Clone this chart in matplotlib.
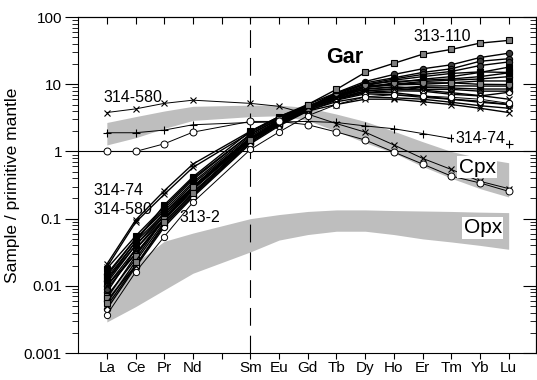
import numpy as np
import matplotlib
matplotlib.use("Agg")
import matplotlib.pyplot as plt
from matplotlib.ticker import LogLocator, FixedLocator, NullFormatter

plt.rcParams['font.family'] = ['Liberation Sans', 'DejaVu Sans']

# REE order (Pm slot kept empty between Nd and Sm)
elements = ['La', 'Ce', 'Pr', 'Nd', 'Sm', 'Eu', 'Gd', 'Tb', 'Dy', 'Ho', 'Er', 'Tm', 'Yb', 'Lu']
xpos = [0, 1, 2, 3, 5, 6, 7, 8, 9, 10, 11, 12, 13, 14]

# mineral fields (grey bands)
cpx_top = [2.7, 3.3, 4.0, 4.7, 4.9, 4.9, 4.5, 3.6, 2.8, 2.0, 1.4, 1.0, 0.8, 0.68]
cpx_bot = [1.25, 1.6, 2.2, 2.9, 3.3, 3.4, 2.9, 2.0, 1.35, 0.95, 0.6, 0.4, 0.28, 0.21]
opx_top = [0.008, 0.022, 0.046, 0.061, 0.10, 0.115, 0.128, 0.135, 0.135, 0.132, 0.13, 0.128, 0.125, 0.123]
opx_bot = [0.0029, 0.0049, 0.0087, 0.0154, 0.032, 0.048, 0.058, 0.065, 0.065, 0.058, 0.05, 0.045, 0.04, 0.035]

# clinopyroxene analyses
cpx_314_580 = [3.8, 4.3, 5.2, 5.8, 5.2, 4.7, 3.6, 2.6, 1.94, 1.25, 0.79, 0.54, 0.36, 0.28]
cpx_314_74 = [1.9, 1.9, 2.08, 2.5, 2.7, 2.75, 2.8, 2.7, 2.4, 2.18, 1.85, 1.56, 1.42, 1.27]
cpx_313_2 = [1.0, 1.0, 1.3, 1.94, 2.8, 2.8, 2.5, 1.95, 1.48, 0.98, 0.65, 0.43, 0.34, 0.255]

# garnet analyses
gar_313_110 = [0.0055, 0.023, 0.09, 0.24, 1.5, 3.0, 5.0, 8.4, 15, 20.5, 28, 33, 41, 45]
gar_314_74 = [0.021, 0.095, 0.26, 0.65, 2.0, 3.3, 4.8, 6.5, 8.5, 9.0, 9.0, 8.8, 8.5, 8.5]
gar_314_580 = [0.019, 0.088, 0.23, 0.58, 1.9, 3.2, 4.6, 6.2, 8.0, 8.5, 8.2, 7.5, 6.8, 6.0]
gar_313_2 = [0.0037, 0.016, 0.054, 0.175, 1.07, 1.95, 3.4, 5.0, 6.5, 7.0, 6.7, 6.4, 6.0, 5.2]
gar_a = [0.012, 0.045, 0.12, 0.33, 1.6, 2.8, 4.6, 7.5, 11, 14, 17, 19.5, 25, 29]
gar_b = [0.008, 0.035, 0.11, 0.30, 1.5, 2.7, 4.5, 7.2, 10.5, 12.5, 15, 17, 22, 24]
gar_c = [0.015, 0.05, 0.13, 0.35, 1.7, 2.9, 4.5, 7.0, 10, 12, 14, 15.5, 19, 21.5]
gar_d = [0.011, 0.04, 0.12, 0.30, 1.6, 2.8, 4.4, 6.8, 9.5, 11.5, 13, 14.5, 15.3, 15]
gar_e = [0.018, 0.055, 0.15, 0.40, 1.8, 3.0, 4.6, 6.5, 9.0, 10.5, 11.9, 13, 15, 18]
gar_f = [0.010, 0.03, 0.10, 0.28, 1.5, 2.6, 4.3, 6.5, 9.0, 10, 11, 11.5, 12, 13]
gar_g = [0.014, 0.05, 0.14, 0.38, 1.8, 3.1, 4.7, 6.8, 9.0, 9.8, 10, 10.5, 11.2, 11.2]
gar_h = [0.007, 0.025, 0.10, 0.25, 1.4, 2.6, 4.3, 6.0, 8.0, 8.5, 9.4, 9.5, 9.4, 9.4]
gar_i = [0.009, 0.03, 0.095, 0.27, 1.5, 2.7, 4.4, 6.3, 8.5, 9.2, 8.4, 8.4, 7.9, 7.9]
gar_j = [0.006, 0.02, 0.08, 0.22, 1.35, 2.5, 4.2, 6.0, 7.6, 8.0, 7.9, 7.1, 6.7, 7.6]
gar_k = [0.012, 0.04, 0.11, 0.30, 1.6, 2.7, 4.3, 6.0, 7.5, 7.5, 6.7, 6.0, 5.6, 5.0]
gar_l = [0.0045, 0.019, 0.075, 0.21, 1.3, 2.4, 4.0, 5.8, 7.2, 7.0, 6.4, 6.0, 5.4, 5.0]
gar_m = [0.005, 0.02, 0.085, 0.23, 1.4, 2.5, 4.1, 5.5, 6.5, 6.3, 6.0, 5.4, 4.8, 4.4]
gar_n = [0.010, 0.035, 0.10, 0.28, 1.5, 2.6, 4.0, 5.0, 6.0, 6.0, 5.5, 5.0, 4.4, 3.8]
gar_o = [0.013, 0.045, 0.16, 0.42, 2.0, 3.3, 5.0, 7.5, 10, 11, 11.5, 12, 13, 14.8]
gar_p = [0.0065, 0.028, 0.10, 0.30, 1.55, 2.8, 4.5, 6.8, 9.5, 10, 10.5, 10.5, 10, 9.9]

# marker styles
sq_black = dict(marker='s', mfc='black', mec='black')
sq_grey = dict(marker='s', mfc='#7f7f7f', mec='black')
ci_dark = dict(marker='o', mfc='#3a3a3a', mec='black')
ci_open = dict(marker='o', mfc='white', mec='black')
cross = dict(marker='x', mfc='none', mec='black')
plus = dict(marker='+', mfc='none', mec='black')

garnets = [
    (gar_a, ci_dark), (gar_b, ci_dark), (gar_c, ci_dark), (gar_d, sq_black),
    (gar_e, sq_black), (gar_f, ci_dark), (gar_g, sq_black), (gar_h, sq_grey),
    (gar_i, ci_dark), (gar_j, ci_open), (gar_k, cross), (gar_l, ci_open),
    (gar_m, cross), (gar_n, cross), (gar_o, sq_black), (gar_p, sq_grey),
    (gar_314_74, cross), (gar_314_580, cross), (gar_313_110, sq_grey),
]

fig = plt.figure(figsize=(5.37, 3.80), dpi=100)
ax = fig.add_axes([0.145, 0.071, 0.853, 0.884])

ax.fill_between(xpos, cpx_bot, cpx_top, color='#bebebe', lw=0, zorder=1)
ax.fill_between(xpos, opx_bot, opx_top, color='#bebebe', lw=0, zorder=1)

ax.axhline(1, color='black', lw=0.8, zorder=2)
ax.axvline(5, color='black', lw=0.8, linestyle=(0, (16, 9)), zorder=2)

for vals, st in garnets:
    ax.plot(xpos, vals, color='black', lw=1.0, ms=4.5, mew=0.8, zorder=3, **st)
ax.plot(xpos, gar_313_2, color='black', lw=0.7, ms=4.5, mew=0.7, zorder=4, **ci_open)

ax.plot(xpos, cpx_314_580, color='black', lw=0.7, ms=5, mew=0.8, zorder=3, **cross)
ax.plot(xpos, cpx_314_74, color='black', lw=0.7, ms=6, mew=0.8, zorder=3, **plus)
ax.plot(xpos, cpx_313_2, color='black', lw=0.7, ms=5, mew=0.7, zorder=3, **ci_open)

ax.set_yscale('log')
ax.set_ylim(0.001, 100)
ax.set_xlim(-1.01, 14.95)

ax.xaxis.set_major_locator(FixedLocator(range(15)))
ax.set_xticklabels(['La', 'Ce', 'Pr', 'Nd', '', 'Sm', 'Eu', 'Gd', 'Tb', 'Dy', 'Ho', 'Er', 'Tm', 'Yb', 'Lu'])
ax.tick_params(axis='x', which='major', direction='out', length=4, width=0.8,
               labelsize=11, pad=2)
ax.set_yticks([0.001, 0.01, 0.1, 1, 10, 100])
ax.set_yticklabels(['0.001', '0.01', '0.1', '1', '10', '100'])
ax.yaxis.set_minor_locator(LogLocator(base=10, subs=np.arange(2, 10), numticks=10))
ax.yaxis.set_minor_formatter(NullFormatter())
ax.tick_params(axis='y', which='major', direction='out', length=9.5, width=0.8, labelsize=11, pad=2)
ax.tick_params(axis='y', which='minor', direction='out', length=4.5, width=0.6)

# inward ticks along top and right
top = ax.secondary_xaxis('top')
top.set_xticks(range(15))
top.set_xticklabels([])
top.tick_params(direction='in', length=5, width=0.8)
right = ax.secondary_yaxis('right')
right.set_yticks([0.001, 0.01, 0.1, 1, 10, 100])
right.set_yticklabels([])
right.yaxis.set_minor_locator(LogLocator(base=10, subs=np.arange(2, 10), numticks=10))
right.yaxis.set_minor_formatter(NullFormatter())
right.tick_params(which='major', direction='in', length=9.5, width=0.8)
right.tick_params(which='minor', direction='in', length=4.5, width=0.6)

for sp in ax.spines.values():
    sp.set_linewidth(0.8)

ax.set_ylabel('Sample / primitive mantle', fontsize=12.5)
ax.yaxis.set_label_coords(-0.127, 0.5)

ax.text(8.3, 25, 'Gar', fontsize=15.5, fontweight='bold', ha='center', va='center', zorder=6)
ax.text(11.7, 52, '313-110', fontsize=11.5, ha='center', va='center', zorder=6)
ax.text(0.9, 6.4, '314-580', fontsize=11.5, ha='center', va='center', zorder=6)
ax.text(13.0, 1.56, '314-74', fontsize=11.5, ha='center', va='center', zorder=6,
        bbox=dict(facecolor='white', edgecolor='none', pad=0.5))
ax.text(12.9, 0.58, 'Cpx', fontsize=15, ha='center', va='center', zorder=6,
        bbox=dict(facecolor='white', edgecolor='none', pad=1))
ax.text(13.1, 0.073, 'Opx', fontsize=15, ha='center', va='center', zorder=6,
        bbox=dict(facecolor='white', edgecolor='none', pad=1))
ax.text(0.42, 0.26, '314-74', fontsize=11.5, ha='center', va='center', zorder=6)
ax.text(0.56, 0.136, '314-580', fontsize=11.5, ha='center', va='center', zorder=6)
ax.text(3.24, 0.103, '313-2', fontsize=11.5, ha='center', va='center', zorder=6)

fig.savefig('out.png', dpi=100)
